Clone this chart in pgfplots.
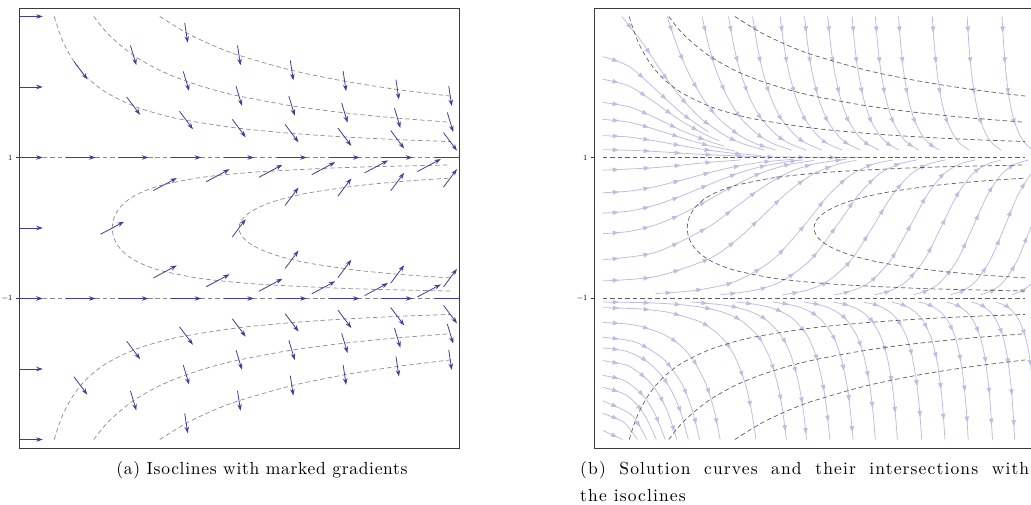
\documentclass[border=0pt]{standalone}
\usepackage{fontspec}
\usepackage{pgfplots}
\usepackage{pgfplotstable}
\pgfplotsset{compat=1.18}
\usetikzlibrary{arrows.meta,decorations.markings}
\definecolor{arrcol}{RGB}{62,62,158}
\definecolor{strcol}{RGB}{190,190,228}
\definecolor{isoA}{RGB}{140,140,140}
\definecolor{isoB}{RGB}{95,95,95}
\definecolor{framecol}{RGB}{60,60,60}
\newfontfamily\capfam{lmroman10-regular.otf}[LetterSpace=4]
\newfontfamily\capfamw{lmroman10-regular.otf}[LetterSpace=6.5]
\newcommand\capfont{\capfam\fontsize{17.5}{21}\selectfont}
\newcommand\capfontw{\capfamw\fontsize{17.5}{21}\selectfont}

\pgfplotstableread[row sep=\\]{x y\\ 0.25 3\\ 0.3 2.769\\ 0.35 2.591\\ 0.42 2.400\\ 0.5 2.236\\ 0.6 2.082\\ 0.75 1.915\\ 1 1.732\\ 1.25 1.612\\ 1.5 1.528\\ 2 1.414\\ 2.5 1.342\\ 3 1.291\\ 3.5 1.254\\ 4 1.225\\}\isoTa
\pgfplotstableread[row sep=\\]{x y\\ 0.25 -3\\ 0.3 -2.769\\ 0.35 -2.591\\ 0.42 -2.400\\ 0.5 -2.236\\ 0.6 -2.082\\ 0.75 -1.915\\ 1 -1.732\\ 1.25 -1.612\\ 1.5 -1.528\\ 2 -1.414\\ 2.5 -1.342\\ 3 -1.291\\ 3.5 -1.254\\ 4 -1.225\\}\isoTan
\pgfplotstableread[row sep=\\]{x y\\ 0.625 3\\ 0.7 2.854\\ 0.8 2.693\\ 1 2.449\\ 1.25 2.236\\ 1.5 2.082\\ 1.75 1.964\\ 2 1.871\\ 2.5 1.732\\ 3 1.633\\ 3.5 1.558\\ 4 1.5\\}\isoTb
\pgfplotstableread[row sep=\\]{x y\\ 0.625 -3\\ 0.7 -2.854\\ 0.8 -2.693\\ 1 -2.449\\ 1.25 -2.236\\ 1.5 -2.082\\ 1.75 -1.964\\ 2 -1.871\\ 2.5 -1.732\\ 3 -1.633\\ 3.5 -1.558\\ 4 -1.5\\}\isoTbn
\pgfplotstableread[row sep=\\]{x y\\ 1.25 3\\ 1.5 2.769\\ 1.75 2.591\\ 2 2.449\\ 2.5 2.236\\ 3 2.082\\ 3.5 1.964\\ 4 1.871\\}\isoTc
\pgfplotstableread[row sep=\\]{x y\\ 1.25 -3\\ 1.5 -2.769\\ 1.75 -2.591\\ 2 -2.449\\ 2.5 -2.236\\ 3 -2.082\\ 3.5 -1.964\\ 4 -1.871\\}\isoTcn
\pgfplotstableread[row sep=\\]{x y\\ 4 -0.894\\ 3.291 -0.87\\ 2.883 -0.85\\ 2.222 -0.8\\ 1.829 -0.75\\ 1.569 -0.7\\ 1.25 -0.6\\ 1.067 -0.5\\ 0.952 -0.4\\ 0.879 -0.3\\ 0.833 -0.2\\ 0.808 -0.1\\ 0.8 0\\ 0.808 0.1\\ 0.833 0.2\\ 0.879 0.3\\ 0.952 0.4\\ 1.067 0.5\\ 1.25 0.6\\ 1.569 0.7\\ 1.829 0.75\\ 2.222 0.8\\ 2.883 0.85\\ 3.291 0.87\\ 4 0.894\\}\isoCa
\pgfplotstableread[row sep=\\]{x y\\ 4 -0.7071\\ 3.72 -0.68\\ 3.463 -0.65\\ 3.125 -0.6\\ 2.667 -0.5\\ 2.381 -0.4\\ 2.198 -0.3\\ 2.083 -0.2\\ 2.02 -0.1\\ 2 0\\ 2.02 0.1\\ 2.083 0.2\\ 2.198 0.3\\ 2.381 0.4\\ 2.667 0.5\\ 3.125 0.6\\ 3.463 0.65\\ 3.72 0.68\\ 4 0.7071\\}\isoCb
\pgfplotstableread[row sep=\\]{x y\\ 0 1\\ 4 1\\}\isoP
\pgfplotstableread[row sep=\\]{x y\\ 0 -1\\ 4 -1\\}\isoM

\pgfplotsset{
  myax/.style={scale only axis, width=440pt, height=440pt,
    xmin=-0.083, xmax=4.083, ymin=-3.12, ymax=3.12,
    xtick=\empty, ytick={-1,1}, ytick pos=left, tick align=outside,
    major tick length=3pt, tick style={framecol, line width=0.5pt},
    yticklabel style={font=\fontsize{8.5}{9}\selectfont},
    axis line style={framecol, line width=0.9pt}},
  isoa/.style={isoA, line width=0.7pt, dash pattern=on 4.5pt off 3pt, smooth, no marks},
  isob/.style={isoB, line width=0.7pt, dash pattern=on 4.5pt off 3pt, smooth, no marks},
  stream/.style={strcol, line width=0.8pt, smooth, no marks,
    postaction={decorate},
    decoration={markings, mark=between positions 16pt and -4pt step 31pt with {\arrow{Triangle[length=6pt,width=4.5pt]}}}}
}

\begin{document}
\begin{tikzpicture}
\path[use as bounding box] (0,0) rectangle (1031pt,505pt);

% ---------------- (a) ----------------
\begin{axis}[myax, at={(19pt,57pt)}, anchor=south west]
\addplot[isoa] table {\isoTa};
\addplot[isoa] table {\isoTan};
\addplot[isoa] table {\isoTb};
\addplot[isoa] table {\isoTbn};
\addplot[isoa] table {\isoTc};
\addplot[isoa] table {\isoTcn};
\addplot[isoa] table {\isoCa};
\addplot[isoa] table {\isoCb};
\addplot[isoa] table {\isoP};
\addplot[isoa] table {\isoM};
\addplot[arrcol, line width=0.8pt, -{Stealth[length=6.5pt,width=4.5pt]},
  quiver={u=\thisrow{u}, v=\thisrow{v}}] table {
x y u v
-0.142 -3 0.284 0
-0.142 -2 0.284 0
-0.142 0 0.284 0
-0.142 2 0.284 0
-0.142 3 0.284 0
-0.142 1 0.284 0
0.358 1 0.284 0
0.858 1 0.284 0
1.358 1 0.284 0
1.858 1 0.284 0
2.358 1 0.284 0
2.858 1 0.284 0
3.358 1 0.284 0
3.858 1 0.284 0
-0.142 -1 0.284 0
0.358 -1 0.284 0
0.858 -1 0.284 0
1.358 -1 0.284 0
1.858 -1 0.284 0
2.358 -1 0.284 0
2.858 -1 0.284 0
3.358 -1 0.284 0
3.858 -1 0.284 0
0.4365 2.363 0.127 -0.254
0.9365 1.859 0.127 -0.254
1.4365 1.655 0.127 -0.254
1.9365 1.541 0.127 -0.254
2.4365 1.469 0.127 -0.254
2.9365 1.418 0.127 -0.254
3.4365 1.381 0.127 -0.254
3.9365 1.352 0.127 -0.254
0.4365 -2.109 0.127 -0.254
0.9365 -1.605 0.127 -0.254
1.4365 -1.401 0.127 -0.254
1.9365 -1.287 0.127 -0.254
2.4365 -1.215 0.127 -0.254
2.9365 -1.164 0.127 -0.254
3.4365 -1.127 0.127 -0.254
3.9365 -1.098 0.127 -0.254
0.9722 2.588 0.0557 -0.2785
1.4722 2.221 0.0557 -0.2785
1.9722 2.010 0.0557 -0.2785
2.4722 1.871 0.0557 -0.2785
2.9722 1.772 0.0557 -0.2785
3.4722 1.697 0.0557 -0.2785
3.9722 1.639 0.0557 -0.2785
0.9722 -2.310 0.0557 -0.2785
1.4722 -1.943 0.0557 -0.2785
1.9722 -1.732 0.0557 -0.2785
2.4722 -1.593 0.0557 -0.2785
2.9722 -1.494 0.0557 -0.2785
3.4722 -1.419 0.0557 -0.2785
3.9722 -1.361 0.0557 -0.2785
1.4859 2.910 0.0283 -0.2826
1.9859 2.590 0.0283 -0.2826
2.4859 2.377 0.0283 -0.2826
2.9859 2.223 0.0283 -0.2826
3.4859 2.105 0.0283 -0.2826
3.9859 2.012 0.0283 -0.2826
1.4859 -2.628 0.0283 -0.2826
1.9859 -2.308 0.0283 -0.2826
2.4859 -2.095 0.0283 -0.2826
2.9859 -1.941 0.0283 -0.2826
3.4859 -1.823 0.0283 -0.2826
3.9859 -1.730 0.0283 -0.2826
0.6891 -0.0887 0.2218 0.1774
1.1891 0.5313 0.2218 0.1774
1.6891 0.6563 0.2218 0.1774
2.1891 0.7193 0.2218 0.1774
2.6891 0.7563 0.2218 0.1774
3.1891 0.7813 0.2218 0.1774
3.6891 0.8003 0.2218 0.1774
1.1891 -0.7087 0.2218 0.1774
1.6891 -0.8337 0.2218 0.1774
2.1891 -0.8967 0.2218 0.1774
2.6891 -0.9337 0.2218 0.1774
3.1891 -0.9587 0.2218 0.1774
3.6891 -0.9777 0.2218 0.1774
1.9365 -0.127 0.127 0.254
2.4365 0.320 0.127 0.254
2.9365 0.450 0.127 0.254
3.4365 0.528 0.127 0.254
3.9365 0.580 0.127 0.254
2.4365 -0.574 0.127 0.254
2.9365 -0.704 0.127 0.254
3.4365 -0.782 0.127 0.254
3.9365 -0.834 0.127 0.254
};
\end{axis}

% ---------------- (b) ----------------
\begin{axis}[myax, at={(594pt,57pt)}, anchor=south west]
% from left edge, above y=1
\addplot[stream] coordinates {(0,2.43) (0.25,2.291) (0.5,1.965) (0.75,1.624) (1,1.364)};
\addplot[stream] coordinates {(0,2.11) (0.25,2.012) (0.5,1.773) (0.75,1.511) (1,1.303) (1.1,1.239)};
\addplot[stream] coordinates {(0,1.78) (0.25,1.718) (0.5,1.561) (0.75,1.381) (1,1.231) (1.15,1.162)};
\addplot[stream] coordinates {(0,1.54) (0.25,1.50) (0.5,1.397) (0.75,1.277) (1,1.170) (1.25,1.094)};
\addplot[stream] coordinates {(0,1.31) (0.25,1.290) (0.5,1.234) (0.75,1.166) (1,1.104) (1.25,1.058) (1.5,1.029)};
\addplot[stream] coordinates {(0,1.11) (0.25,1.103) (0.5,1.085) (0.75,1.061) (1,1.039) (1.5,1.011) (2,1.002) (2.5,1.0003)};
% from top
\addplot[stream] coordinates {(0.18,3) (0.373,2.632) (0.489,2.370) (0.582,2.164) (0.734,1.862) (0.860,1.655) (0.969,1.506) (1.157,1.313) (1.319,1.199) (1.529,1.105)};
\addplot[stream] coordinates {(0.61,3) (0.692,2.632) (0.761,2.370) (0.824,2.164) (0.937,1.862) (1.039,1.655) (1.131,1.506) (1.296,1.313) (1.442,1.199) (1.637,1.105)};
\addplot[stream] coordinates {(0.94,3) (0.995,2.632) (1.044,2.370) (1.091,2.164) (1.179,1.862) (1.261,1.655) (1.338,1.506) (1.480,1.313) (1.609,1.199) (1.786,1.105)};
\addplot[stream] coordinates {(1.19,3) (1.234,2.632) (1.274,2.370) (1.313,2.164) (1.387,1.862) (1.457,1.655) (1.524,1.506) (1.650,1.313) (1.767,1.199) (1.929,1.105)};
\addplot[stream] coordinates {(1.42,3) (1.457,2.632) (1.491,2.370) (1.524,2.164) (1.588,1.862) (1.650,1.655) (1.710,1.506) (1.823,1.313) (1.930,1.199) (2.079,1.105)};
\addplot[stream] coordinates {(1.68,3) (1.711,2.632) (1.740,2.370) (1.769,2.164) (1.825,1.862) (1.879,1.655) (1.931,1.506) (2.032,1.313) (2.128,1.199) (2.265,1.105)};
\addplot[stream] coordinates {(1.91,3) (1.938,2.632) (1.963,2.370) (1.989,2.164) (2.038,1.862) (2.087,1.655) (2.134,1.506) (2.226,1.313) (2.314,1.199) (2.440,1.105)};
\addplot[stream] coordinates {(2.13,3) (2.155,2.632) (2.178,2.370) (2.201,2.164) (2.246,1.862) (2.290,1.655) (2.333,1.506) (2.417,1.313) (2.499,1.199) (2.616,1.105)};
\addplot[stream] coordinates {(2.36,3) (2.383,2.632) (2.403,2.370) (2.424,2.164) (2.465,1.862) (2.505,1.655) (2.545,1.506) (2.622,1.313) (2.697,1.199) (2.806,1.105)};
\addplot[stream] coordinates {(2.58,3) (2.601,2.632) (2.620,2.370) (2.639,2.164) (2.676,1.862) (2.714,1.655) (2.750,1.506) (2.822,1.313) (2.892,1.199) (2.994,1.105)};
\addplot[stream] coordinates {(2.80,3) (2.819,2.632) (2.837,2.370) (2.854,2.164) (2.889,1.862) (2.923,1.655) (2.958,1.506) (3.024,1.313) (3.090,1.199) (3.185,1.105)};
\addplot[stream] coordinates {(3.12,3) (3.137,2.632) (3.153,2.370) (3.169,2.164) (3.200,1.862) (3.231,1.655) (3.262,1.506) (3.323,1.313) (3.382,1.199) (3.470,1.105)};
\addplot[stream] coordinates {(3.45,3) (3.465,2.632) (3.480,2.370) (3.494,2.164) (3.523,1.862) (3.551,1.655) (3.579,1.506) (3.634,1.313) (3.689,1.199) (3.770,1.105)};
\addplot[stream] coordinates {(3.78,3) (3.794,2.632) (3.807,2.370) (3.820,2.164) (3.846,1.862) (3.872,1.655) (3.898,1.506) (3.949,1.313) (3.999,1.199) (4.074,1.105)};
% band between -1 and 1
\addplot[stream] coordinates {(0,0.820) (0.5,0.857) (1,0.930) (1.3,0.964)};
\addplot[stream] coordinates {(0,0.5) (0.25,0.523) (0.5,0.587) (0.75,0.681) (1,0.781) (1.25,0.869) (1.5,0.932) (1.8,0.974)};
\addplot[stream] coordinates {(0,0.21) (0.25,0.240) (0.5,0.325) (0.75,0.458) (1,0.612) (1.25,0.759) (1.5,0.871) (1.75,0.941) (1.9,0.965)};
\addplot[stream] coordinates {(0,-0.08) (0.25,-0.049) (0.5,0.045) (0.75,0.198) (1,0.397) (1.25,0.605) (1.5,0.780) (1.75,0.896) (2,0.958)};
\addplot[stream] coordinates {(0,-0.45) (0.5,-0.345) (1,0.015) (1.25,0.288) (1.5,0.564) (1.75,0.781) (2,0.908) (2.3,0.974)};
\addplot[stream] coordinates {(0,-0.75) (0.5,-0.689) (1,-0.440) (1.25,-0.190) (1.5,0.151) (1.75,0.507) (2,0.772) (2.25,0.915) (2.4,0.957)};
\addplot[stream] coordinates {(0.5,-0.929) (0.872,-0.885) (1.249,-0.762) (1.600,-0.462) (1.887,0) (2.135,0.462) (2.358,0.762) (2.561,0.905) (2.750,0.964)};
\addplot[stream] coordinates {(1.114,-0.947) (1.428,-0.885) (1.685,-0.762) (1.960,-0.462) (2.200,0) (2.417,0.462) (2.615,0.762) (2.800,0.905) (2.973,0.964)};
\addplot[stream] coordinates {(1.704,-0.947) (1.924,-0.885) (2.122,-0.762) (2.346,-0.462) (2.550,0) (2.739,0.462) (2.916,0.762) (3.083,0.905) (3.241,0.964)};
\addplot[stream] coordinates {(2.193,-0.947) (2.369,-0.885) (2.532,-0.762) (2.722,-0.462) (2.900,0) (3.068,0.462) (3.226,0.762) (3.378,0.905) (3.523,0.964)};
\addplot[stream] coordinates {(2.577,-0.947) (2.728,-0.885) (2.871,-0.762) (3.040,-0.462) (3.200,0) (3.353,0.462) (3.499,0.762) (3.639,0.905) (3.774,0.964)};
\addplot[stream] coordinates {(2.941,-0.947) (3.074,-0.885) (3.202,-0.762) (3.354,-0.462) (3.500,0) (3.640,0.462) (3.775,0.762) (3.905,0.905) (4.031,0.964)};
\addplot[stream] coordinates {(3.292,-0.947) (3.412,-0.885) (3.527,-0.762) (3.666,-0.462) (3.800,0) (3.929,0.462) (4.055,0.762) (4.176,0.905)};
\addplot[stream] coordinates {(3.578,-0.947) (3.688,-0.885) (3.795,-0.762) (3.924,-0.462) (4.050,0) (4.171,0.462)};
\addplot[stream] coordinates {(3.873,-0.947) (3.975,-0.885) (4.074,-0.762) (4.195,-0.462)};
% below -1, from left edge
\addplot[stream] coordinates {(0,-1.13) (0.31,-1.144) (0.443,-1.1605) (0.629,-1.199) (0.892,-1.313) (0.998,-1.396) (1.094,-1.506) (1.182,-1.655) (1.263,-1.862) (1.340,-2.164) (1.377,-2.370) (1.413,-2.632) (1.450,-3)};
\addplot[stream] coordinates {(0,-1.34) (0.219,-1.360) (0.358,-1.396) (0.573,-1.506) (0.727,-1.655) (0.853,-1.862) (0.963,-2.164) (1.014,-2.370) (1.062,-2.632) (1.111,-3)};
\addplot[stream] coordinates {(0,-1.55) (0.232,-1.590) (0.366,-1.655) (0.578,-1.862) (0.731,-2.164) (0.796,-2.370) (0.857,-2.632) (0.917,-3)};
\addplot[stream] coordinates {(0,-1.70) (0.224,-1.749) (0.387,-1.862) (0.5,-1.998) (0.592,-2.164) (0.671,-2.370) (0.742,-2.632) (0.810,-3)};
\addplot[stream] coordinates {(0,-1.88) (0.214,-1.940) (0.293,-1.998) (0.431,-2.164) (0.535,-2.370) (0.621,-2.632) (0.702,-3)};
\addplot[stream] coordinates {(0,-2.09) (0.205,-2.164) (0.377,-2.370) (0.492,-2.632) (0.591,-3)};
\addplot[stream] coordinates {(0,-2.26) (0.224,-2.370) (0.387,-2.632) (0.507,-3)};
\addplot[stream] coordinates {(0,-2.45) (0.257,-2.632) (0.355,-2.825) (0.416,-3)};
\addplot[stream] coordinates {(0,-2.63) (0.2,-2.757) (0.327,-3)};
\addplot[stream] coordinates {(0,-2.87) (0.187,-3)};
% below -1, leaving the line y=-1
\addplot[stream] coordinates {(0,-1.05) (0.4,-1.059) (0.717,-1.085) (0.956,-1.129) (1.146,-1.199) (1.309,-1.313) (1.454,-1.506) (1.521,-1.655) (1.586,-1.862) (1.647,-2.164) (1.678,-2.370) (1.707,-2.632) (1.738,-3)};
\addplot[stream] coordinates {(0.84,-1.05) (1.104,-1.085) (1.273,-1.129) (1.421,-1.199) (1.556,-1.313) (1.679,-1.506) (1.738,-1.655) (1.794,-1.862) (1.849,-2.164) (1.876,-2.370) (1.903,-2.632) (1.930,-3)};
\addplot[stream] coordinates {(1.265,-1.05) (1.454,-1.085) (1.586,-1.129) (1.707,-1.199) (1.820,-1.313) (1.927,-1.506) (1.978,-1.655) (2.028,-1.862) (2.077,-2.164) (2.101,-2.370) (2.125,-2.632) (2.150,-3)};
\addplot[stream] coordinates {(1.611,-1.05) (1.763,-1.085) (1.873,-1.129) (1.977,-1.199) (2.076,-1.313) (2.170,-1.506) (2.216,-1.655) (2.260,-1.862) (2.304,-2.164) (2.326,-2.370) (2.347,-2.632) (2.370,-3)};
\addplot[stream] coordinates {(1.907,-1.05) (2.037,-1.085) (2.133,-1.129) (2.225,-1.199) (2.313,-1.313) (2.398,-1.506) (2.439,-1.655) (2.480,-1.862) (2.520,-2.164) (2.540,-2.370) (2.560,-2.632) (2.580,-3)};
\addplot[stream] coordinates {(2.182,-1.05) (2.297,-1.085) (2.382,-1.129) (2.465,-1.199) (2.545,-1.313) (2.622,-1.506) (2.660,-1.655) (2.697,-1.862) (2.734,-2.164) (2.752,-2.370) (2.770,-2.632) (2.790,-3)};
\addplot[stream] coordinates {(2.470,-1.05) (2.572,-1.085) (2.649,-1.129) (2.723,-1.199) (2.796,-1.313) (2.866,-1.506) (2.901,-1.655) (2.935,-1.862) (2.969,-2.164) (2.986,-2.370) (3.002,-2.632) (3.020,-3)};
\addplot[stream] coordinates {(2.734,-1.05) (2.826,-1.085) (2.896,-1.129) (2.965,-1.199) (3.031,-1.313) (3.097,-1.506) (3.129,-1.655) (3.161,-1.862) (3.192,-2.164) (3.208,-2.370) (3.223,-2.632) (3.240,-3)};
\addplot[stream] coordinates {(2.992,-1.05) (3.077,-1.085) (3.141,-1.129) (3.204,-1.199) (3.266,-1.313) (3.327,-1.506) (3.357,-1.655) (3.386,-1.862) (3.416,-2.164) (3.430,-2.370) (3.445,-2.632) (3.460,-3)};
\addplot[stream] coordinates {(3.255,-1.05) (3.333,-1.085) (3.392,-1.129) (3.451,-1.199) (3.508,-1.313) (3.565,-1.506) (3.593,-1.655) (3.621,-1.862) (3.648,-2.164) (3.662,-2.370) (3.675,-2.632) (3.690,-3)};
\addplot[stream] coordinates {(3.491,-1.05) (3.564,-1.085) (3.620,-1.129) (3.674,-1.199) (3.728,-1.313) (3.782,-1.506) (3.808,-1.655) (3.834,-1.862) (3.860,-2.164) (3.873,-2.370) (3.886,-2.632) (3.900,-3)};
\addplot[stream] coordinates {(3.720,-1.05) (3.788,-1.085) (3.841,-1.129) (3.893,-1.199) (3.944,-1.313) (3.994,-1.506) (4.019,-1.655) (4.044,-1.862) (4.068,-2.164) (4.081,-2.370) (4.093,-2.632) (4.106,-3)};
% isoclines
\addplot[isob] table {\isoTa};
\addplot[isob] table {\isoTan};
\addplot[isob] table {\isoTb};
\addplot[isob] table {\isoTbn};
\addplot[isob] table {\isoTc};
\addplot[isob] table {\isoTcn};
\addplot[isob] table {\isoCa};
\addplot[isob] table {\isoCb};
\addplot[isob] table {\isoP};
\addplot[isob] table {\isoM};
\end{axis}

\node[anchor=base, inner sep=0pt, font=\capfont] at (262pt,30pt) {(a) Isoclines with marked gradients};
\node[anchor=base west, inner sep=0pt, font=\capfontw] at (580pt,30pt) {\makebox[449pt][s]{(b) Solution curves and their intersections with}};
\node[anchor=base west, inner sep=0pt, font=\capfontw] at (580pt,3pt) {the isoclines};
\end{tikzpicture}
\end{document}
